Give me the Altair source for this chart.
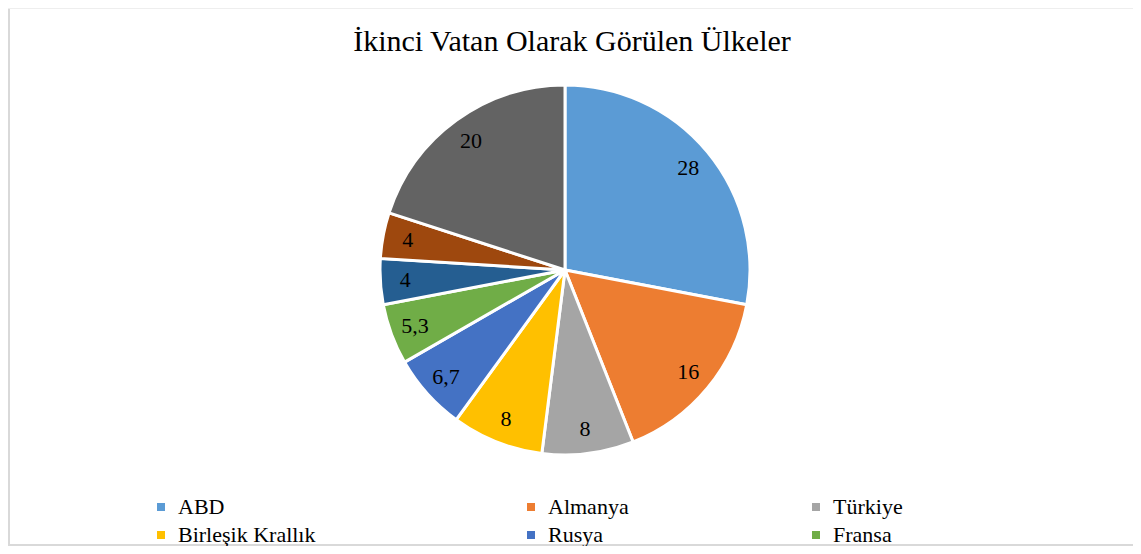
import altair as alt
import pandas as pd

title_text = "İkinci Vatan Olarak Görülen Ülkeler"
categories = ["ABD", "Almanya", "Türkiye", "Birleşik Krallık", "Rusya", "Fransa",
              "Kanada", "Hollanda", "Diğer"]
values = [28, 16, 8, 8, 6.7, 5.3, 4, 4, 20]
colors = ["#5B9BD5", "#ED7D31", "#A5A5A5", "#FFC000", "#4472C4", "#70AD47",
          "#255E91", "#9E480E", "#636363"]
legend_shown = categories[:6]

FONT = "Liberation Serif"
W, H = 1125, 538
CX, CY = 557, 262

df = pd.DataFrame({
    "kategori": categories,
    "deger": values,
    "sira": list(range(len(categories))),
    "etiket": [f"{v:g}".replace(".", ",") for v in values],
})

base = alt.Chart(df).encode(
    theta=alt.Theta("deger:Q", stack=True),
    order=alt.Order("sira:Q"),
)

pie = base.mark_arc(outerRadius=185, stroke="white", strokeWidth=3).encode(
    x=alt.value(CX), y=alt.value(CY),
    color=alt.Color("kategori:N", scale=alt.Scale(domain=categories, range=colors), legend=None),
)

labels = base.mark_text(radius=160, font=FONT, fontSize=22, color="black").encode(
    x=alt.value(CX), y=alt.value(CY), text="etiket:N",
)

title = alt.Chart(pd.DataFrame({"t": [title_text]})).mark_text(
    font=FONT, fontSize=30, color="black", baseline="middle", align="center"
).encode(x=alt.value(564), y=alt.value(34), text="t:N")

legend_x = [142, 512, 797]
legend_layers = []
for j in range(3):
    cats = legend_shown[j::3]
    cols = [colors[categories.index(c)] for c in cats]
    layer = alt.Chart(df).transform_filter(
        alt.FieldOneOfPredicate(field="kategori", oneOf=cats)
    ).mark_square(size=0).encode(
        x=alt.value(0), y=alt.value(0),
        color=alt.Color(
            "kategori:N",
            scale=alt.Scale(domain=cats, range=cols),
            legend=alt.Legend(
                orient="none", legendX=legend_x[j], legendY=488, title=None,
                symbolType="square", symbolSize=64, symbolOpacity=1,
                symbolStrokeWidth=0,
                labelFont=FONT, labelFontSize=22, labelColor="black",
                labelOffset=6, rowPadding=6, padding=0, labelLimit=400,
            ),
        ),
    )
    legend_layers.append(layer)

border_color = "#D9D9D9"
left_rule = alt.Chart(pd.DataFrame({"a": [0]})).mark_rule(color=border_color, strokeWidth=2).encode(
    x=alt.value(1), y=alt.value(0), y2=alt.value(H - 1))
top_rule = alt.Chart(pd.DataFrame({"a": [0]})).mark_rule(color="#EEEEEE", strokeWidth=1).encode(
    x=alt.value(0), x2=alt.value(W), y=alt.value(0.5))
bottom_rule = alt.Chart(pd.DataFrame({"a": [0]})).mark_rule(color=border_color, strokeWidth=2).encode(
    x=alt.value(0), x2=alt.value(W), y=alt.value(H - 1))

chart = alt.layer(
    left_rule, top_rule, bottom_rule, pie, labels, title, *legend_layers
).resolve_scale(color="independent").properties(
    width=W, height=H, autosize=alt.AutoSizeParams(type="none"), padding=0,
).configure_view(strokeWidth=0).configure_legend(
    labelFont=FONT, labelFontSize=22, labelColor="black"
)

chart.save("out.html", embed_options={"renderer": "svg", "actions": False})
